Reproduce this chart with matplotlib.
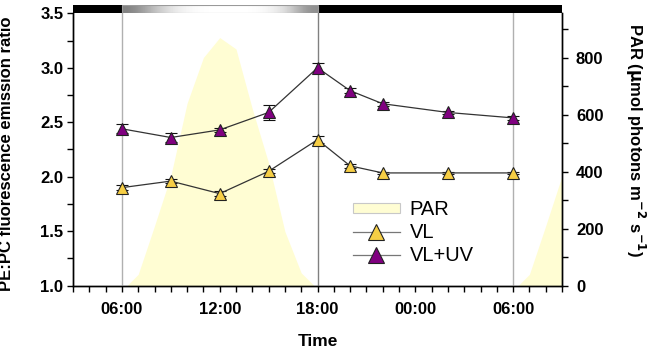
import numpy as np
import matplotlib
matplotlib.use("Agg")
import matplotlib.pyplot as plt
from matplotlib.patches import Patch, Rectangle
from matplotlib.lines import Line2D
from matplotlib.ticker import MultipleLocator, FixedLocator

plt.rcParams['font.family'] = ['Liberation Sans', 'DejaVu Sans']

# sampling times (hours from midnight of day 1)
hours = [6, 9, 12, 15, 18, 20, 22, 26, 30]
vl = [1.90, 1.96, 1.845, 2.05, 2.34, 2.10, 2.035, 2.035, 2.035]
vl_err = [0.02, 0.02, 0.02, 0.02, 0.03, 0.02, 0.01, 0.01, 0.01]
vl_uv = [2.44, 2.36, 2.43, 2.59, 3.00, 2.79, 2.67, 2.59, 2.54]
vl_uv_err = [0.04, 0.04, 0.02, 0.07, 0.04, 0.02, 0.02, 0.01, 0.02]

# PAR light curve
par_hours = [6.3, 7, 8, 9, 10, 11, 12, 13, 14, 15, 16, 17, 17.8,
             30.3, 31, 32, 33]
par_vals = [0, 40, 210, 385, 640, 800, 870, 830, 620, 430, 190, 45, 0,
            0, 40, 210, 385]

tick_pos = [6, 12, 18, 24, 30]
tick_lab = ["06:00", "12:00", "18:00", "00:00", "06:00"]

# light regime bar on top: grey levels across the light period
light_start, light_end = 6, 18
grey_levels = [0.5, 0.72, 0.9, 0.98, 1.0, 1.0, 1.0, 0.97, 0.85, 0.55]

fig = plt.figure(figsize=(6.5, 3.53), dpi=100)
L, B = 73 / 650, 1 - 285.7 / 353
W, H = (562 - 73) / 650, (285.7 - 13.3) / 353
ax = fig.add_axes([L, B, W, H])
ax2 = ax.twinx()

# PAR on the twin axis, drawn behind
ax2.fill_between(par_hours[:13], par_vals[:13], color="#FFFDD3", lw=0)
ax2.fill_between(par_hours[13:], par_vals[13:], color="#FFFDD3", lw=0)
ax2.set_ylim(0, 955)
ax2.yaxis.set_major_locator(FixedLocator([0, 200, 400, 600, 800]))
ax2.yaxis.set_minor_locator(MultipleLocator(100))
ax.set_zorder(ax2.get_zorder() + 1)
ax.patch.set_visible(False)

# vertical reference lines
ax.axvline(6, color="#b0b0b0", lw=1, zorder=1)
ax.axvline(18, color="#808080", lw=1, zorder=1)
ax.axvline(30, color="#b0b0b0", lw=1, zorder=1)

ax.errorbar(hours, vl, yerr=vl_err, color="#333333", lw=0.9, marker="^",
            ms=9, mfc="#F6CE45", mec="#222222", mew=0.8, ecolor="#111111",
            elinewidth=0.8, capsize=4, capthick=0.8, zorder=3)
ax.errorbar(hours, vl_uv, yerr=vl_uv_err, color="#333333", lw=0.9, marker="^",
            ms=9, mfc="#800080", mec="#222222", mew=0.8, ecolor="#111111",
            elinewidth=0.8, capsize=4, capthick=0.8, zorder=3)

ax.set_xlim(3, 33)
ax.set_ylim(1.0, 3.5)
ax.xaxis.set_major_locator(FixedLocator(tick_pos))
ax.set_xticklabels(tick_lab)
ax.xaxis.set_minor_locator(MultipleLocator(1))
ax.yaxis.set_major_locator(MultipleLocator(0.5))
ax.yaxis.set_minor_locator(MultipleLocator(0.25))
ax.yaxis.set_major_formatter(matplotlib.ticker.FormatStrFormatter("%.1f"))

for a in (ax, ax2):
    a.spines["top"].set_visible(False)
    for s in a.spines.values():
        s.set_linewidth(1.0)
ax.tick_params(which="both", direction="out", length=4, width=1)
ax.tick_params(axis="x", which="both", pad=8)
ax.tick_params(axis="y", which="both", pad=3)
ax2.tick_params(which="both", direction="out", length=4, width=1, pad=6)
for lab in ax.get_xticklabels() + ax.get_yticklabels() + ax2.get_yticklabels():
    lab.set_fontweight("bold")
    lab.set_fontsize(12)

ax.set_xlabel("Time", fontweight="bold", fontsize=12.5)
ax.xaxis.set_label_coords(0.5, -0.178)
ax.set_ylabel("PE:PC fluorescence emission ratio", fontweight="bold",
              fontsize=12)
ax.yaxis.set_label_coords(-0.121, 0.485)
ax2.set_ylabel(r"PAR ($\mathbf{\mu}$mol photons m$^{\mathbf{-2}}$ s$^{\mathbf{-1}}$)",
               fontweight="bold", fontsize=12, rotation=270, va="center")
ax2.yaxis.set_label_coords(1.149, 0.535)

handles = [
    Patch(facecolor="#FFFDD3", edgecolor="#c8c8c8", lw=0.8),
    Line2D([], [], color="#777777", lw=0.9, marker="^", ms=11,
           mfc="#F6CE45", mec="#222222", mew=0.8),
    Line2D([], [], color="#777777", lw=0.9, marker="^", ms=11,
           mfc="#800080", mec="#222222", mew=0.8),
]
ax.legend(handles, ["PAR", "VL", "VL+UV"], loc="upper left",
          bbox_to_anchor=(0.573, 0.315), frameon=False, fontsize=14.5,
          borderpad=0, borderaxespad=0, handlelength=2.3, handleheight=0.4,
          handletextpad=0.5, labelspacing=0.2)

# light/dark bar above the plot
bar = fig.add_axes([L, 1 - 13.3 / 353, W, 8.3 / 353])
bar.set_facecolor("black")
bar.set_xlim(3, 33)
bar.set_ylim(0, 1)
bar.imshow(np.array([grey_levels]), cmap="gray", vmin=0, vmax=1,
           aspect="auto", extent=(light_start, light_end, 0, 1),
           interpolation="bicubic")
bar.add_patch(Rectangle((light_start, 0.04), light_end - light_start, 0.92,
                        fill=False, edgecolor="#9a9a9a", lw=0.8))
bar.set_xticks([])
bar.set_yticks([])
for s in bar.spines.values():
    s.set_visible(False)

fig.savefig("out.png", dpi=100)
